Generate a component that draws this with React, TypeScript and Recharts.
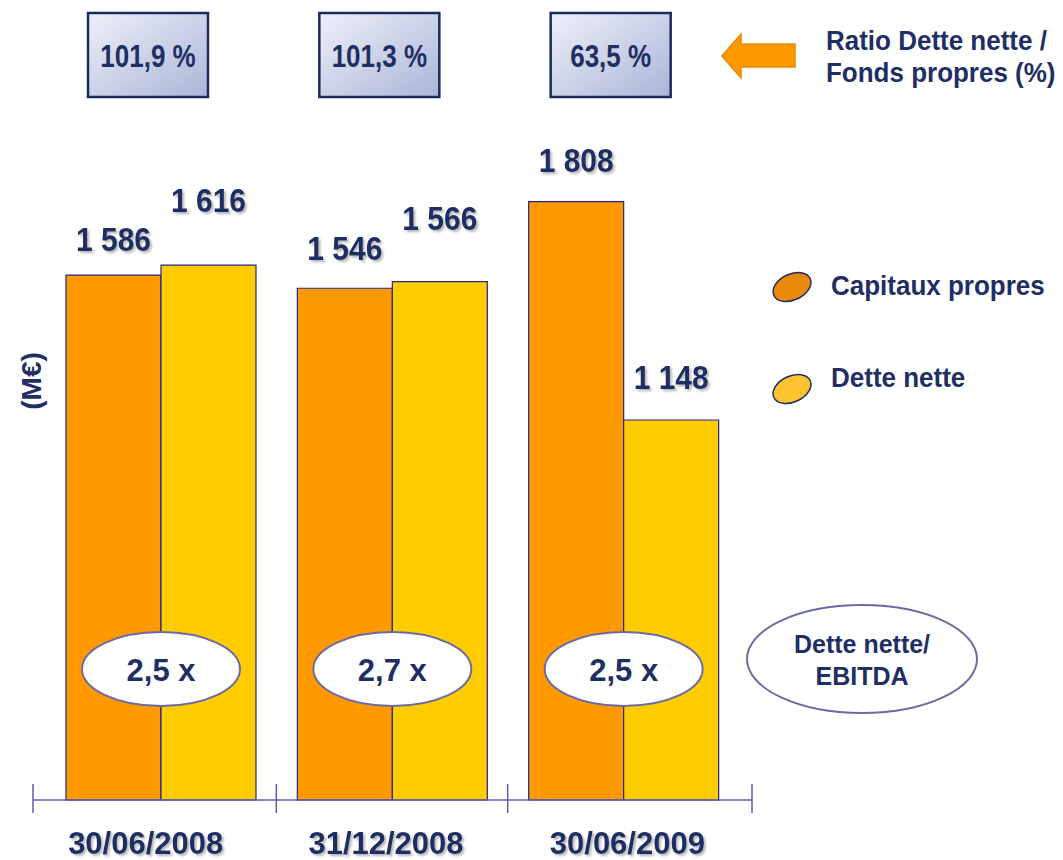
import React from 'react';
import { BarChart, Bar, XAxis, YAxis, LabelList } from 'recharts';

// ---------- data ----------
const categories = ['30/06/2008', '31/12/2008', '30/06/2009'];
const capitauxPropres = [1586, 1546, 1808];
const detteNette = [1616, 1566, 1148];
const ratioDetteFondsPropres = ['101,9 %', '101,3 %', '63,5 %'];
const detteNetteEbitda = ['2,5 x', '2,7 x', '2,5 x'];
const seriesNames = ['Capitaux propres', 'Dette nette'];

// ---------- layout / style constants ----------
const W = 1063;
const H = 860;
const PLOT_LEFT = 33;
const PLOT_RIGHT = 752;
const PLOT_TOP = 138;
const AXIS_Y = 800;
const PAD_L = 12;
const PAD_R = 13;
const BAND = (PLOT_RIGHT - PLOT_LEFT - PAD_L - PAD_R) / categories.length;
const NAVY = '#1f2f64';
const AXIS_COLOR = '#5c5cb0';
const ORANGE = '#FF9900';
const YELLOW = '#FFCC00';
const FONT = '"Liberation Sans", Arial, Helvetica, sans-serif';
const ORANGE_LABEL_GAP = [24, 28, 30];
const YELLOW_LABEL_GAP = [53, 52, 31];
const CAT_LABEL_DX = [-15, -6, 4];

const data = categories.map((c, i) => ({
  date: c,
  capitaux: capitauxPropres[i],
  dette: detteNette[i],
  ratio: ratioDetteFondsPropres[i],
  ebitda: detteNetteEbitda[i],
}));

const fmt = (n: number) => String(n).replace(/\B(?=(\d{3})+(?!\d))/g, ' ');

function Txt({ x, y, size, sy = 1, anchor = 'middle', shadow = false, fill = NAVY, children }: any) {
  return (
    <g transform={`translate(${x},${y}) scale(1,${sy})`}>
      <text
        x={0}
        y={0}
        textAnchor={anchor}
        fontFamily={FONT}
        fontWeight="bold"
        fontSize={size}
        fill={fill}
        filter={shadow ? 'url(#txtShadow)' : undefined}
      >
        {children}
      </text>
    </g>
  );
}

const getBox = (p: any) => {
  const vb = p.viewBox || {};
  return {
    x: Number(p.x ?? vb.x),
    y: Number(p.y ?? vb.y),
    width: Number(p.width ?? vb.width),
  };
};

const makeValueLabel = (gaps: number[]) => (p: any) => {
  const { x, y, width } = getBox(p);
  const i = p.index ?? 0;
  return (
    <Txt x={x + width / 2} y={y - gaps[i]} size={30} sy={1.08} shadow>
      {fmt(Number(p.value))}
    </Txt>
  );
};

const RatioBox = (p: any) => {
  const { x } = getBox(p); // left edge of Dette nette bar = group centre
  const cx = x - 13;
  return (
    <g>
      <rect x={cx - 60} y={13} width={120} height={84} fill="url(#boxGrad)" stroke="#1c2a5e" strokeWidth={2.5} />
      <Txt x={cx} y={67} size={26} sy={1.18}>{p.value}</Txt>
    </g>
  );
};

const EbitdaEllipse = (p: any) => {
  const { x } = getBox(p);
  return (
    <g>
      <ellipse cx={x} cy={669} rx={79} ry={37} fill="#ffffff" stroke="#6b6ba3" strokeWidth={2} />
      <Txt x={x} y={681} size={31} sy={1.03}>{p.value}</Txt>
    </g>
  );
};

const CategoryTick = (p: any) => {
  const { x, index, payload } = p;
  const n = categories.length;
  const marks: number[] = [];
  marks.push(index === 0 ? PLOT_LEFT : x - BAND / 2);
  if (index === n - 1) marks.push(PLOT_RIGHT);
  return (
    <g>
      {marks.map((mx, k) => (
        <line key={k} x1={mx} x2={mx} y1={784} y2={813} stroke={AXIS_COLOR} strokeWidth={1.5} />
      ))}
      <Txt x={x + (CAT_LABEL_DX[index] || 0)} y={AXIS_Y + 54} size={31} sy={1.03} shadow>{payload.value}</Txt>
    </g>
  );
};

export default function App() {
  return (
    <div style={{ position: 'absolute', left: 0, top: 0, width: W, height: H, background: '#fff' }}>
      <svg width={0} height={0} style={{ position: 'absolute' }}>
        <defs>
          <linearGradient id="boxGrad" x1="0" y1="0" x2="1" y2="1">
            <stop offset="0%" stopColor="#eef0f8" />
            <stop offset="100%" stopColor="#aab5d8" />
          </linearGradient>
          <filter id="txtShadow" x="-10%" y="-20%" width="130%" height="150%">
            <feDropShadow dx={2} dy={2} stdDeviation={0.8} floodColor="#808080" floodOpacity={0.55} />
          </filter>
        </defs>
      </svg>
      <BarChart
        width={W}
        height={H}
        data={data}
        margin={{ top: PLOT_TOP, right: W - PLOT_RIGHT, bottom: 0, left: PLOT_LEFT }}
        barGap={0}
      >
        <XAxis
          dataKey="date"
          height={H - AXIS_Y}
          padding={{ left: PAD_L, right: PAD_R }}
          axisLine={{ stroke: AXIS_COLOR, strokeWidth: 1.5 }}
          tickLine={false}
          tickSize={0}
          interval={0}
          tick={<CategoryTick />}
        />
        <YAxis hide domain={[0, 2000]} />
        <Bar dataKey="capitaux" name={seriesNames[0]} fill={ORANGE} stroke="#25258f" strokeWidth={1.2} barSize={95} isAnimationActive={false}>
          <LabelList dataKey="capitaux" content={makeValueLabel(ORANGE_LABEL_GAP)} />
        </Bar>
        <Bar dataKey="dette" name={seriesNames[1]} fill={YELLOW} stroke="#25258f" strokeWidth={1.2} barSize={95} isAnimationActive={false}>
          <LabelList dataKey="dette" content={makeValueLabel(YELLOW_LABEL_GAP)} />
          <LabelList dataKey="ratio" content={RatioBox} />
          <LabelList dataKey="ebitda" content={EbitdaEllipse} />
        </Bar>
      </BarChart>
      <svg width={W} height={H} style={{ position: 'absolute', left: 0, top: 0, pointerEvents: 'none' }}>
        {/* arrow + ratio title */}
        <polygon points="722,56 741,34 741,44 795,44 795,67 741,67 741,78" fill="#FF9900" stroke="#E88A00" strokeWidth={1.5} />
        <Txt x={826} y={50} size={26} sy={1.07} anchor="start">Ratio Dette nette /</Txt>
        <Txt x={826} y={82} size={26} sy={1.07} anchor="start">Fonds propres (%)</Txt>
        {/* legend */}
        <ellipse cx={792} cy={287} rx={20} ry={13} transform="rotate(-25 792 287)" fill="#E8890A" stroke="#1f2f64" strokeWidth={1.5} />
        <Txt x={831} y={295} size={26} sy={1.06} anchor="start">{seriesNames[0]}</Txt>
        <ellipse cx={792} cy={389} rx={20} ry={13} transform="rotate(-25 792 389)" fill="#FFC230" stroke="#1f2f64" strokeWidth={1.5} />
        <Txt x={831} y={387} size={26} sy={1.06} anchor="start">{seriesNames[1]}</Txt>
        {/* EBITDA legend ellipse */}
        <ellipse cx={862} cy={659} rx={115} ry={54} fill="#fff" stroke="#6b6ba3" strokeWidth={2} />
        <Txt x={862} y={653} size={25} anchor="middle">Dette nette/</Txt>
        <Txt x={862} y={685} size={25} anchor="middle">EBITDA</Txt>
        {/* unit label */}
        <g transform="translate(41,381) rotate(-90)">
          <text x={0} y={0} textAnchor="middle" fontFamily={FONT} fontWeight="bold" fontSize={28} fill={NAVY}>(M€)</text>
        </g>
      </svg>
    </div>
  );
}
